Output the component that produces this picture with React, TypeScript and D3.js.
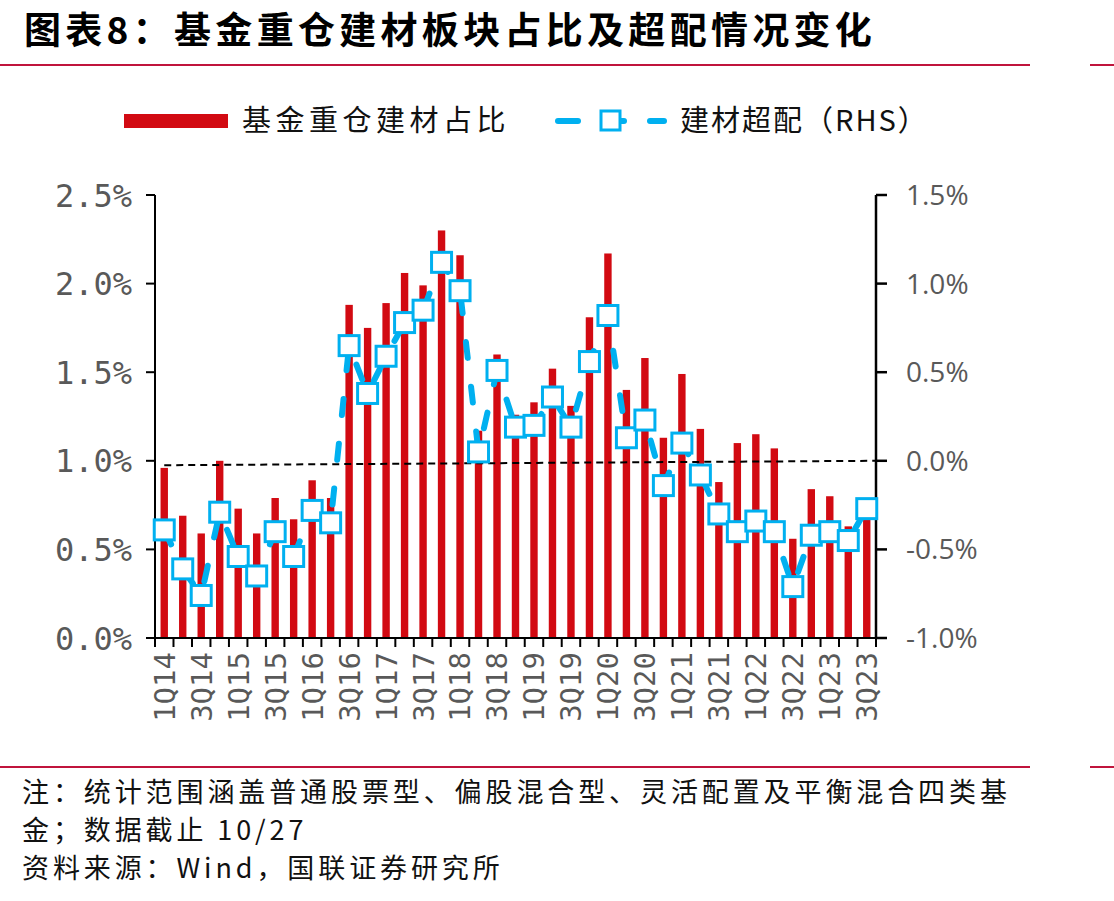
import React from "react";
import * as d3 from "d3";

// quarters 1Q14 .. 3Q23
const quarters: string[] = [];
for (let y = 14; y <= 23; y++) {
  for (let q = 1; q <= 4; q++) {
    if (y === 23 && q > 3) break;
    quarters.push(`${q}Q${y}`);
  }
}

// 基金重仓建材占比 (%), left axis
const shareValues = [
  0.96, 0.69, 0.59, 1.0, 0.73, 0.59, 0.79, 0.67, 0.89, 0.79,
  1.88, 1.75, 1.89, 2.06, 1.99, 2.3, 2.16, 1.17, 1.6, 1.26,
  1.33, 1.52, 1.31, 1.81, 2.17, 1.4, 1.58, 1.13, 1.49, 1.18,
  0.88, 1.1, 1.15, 1.07, 0.56, 0.84, 0.8, 0.63, 0.68,
];

// 建材超配 (%), right axis
const overweightValues = [
  -0.39, -0.61, -0.76, -0.29, -0.54, -0.65, -0.4, -0.54, -0.28, -0.35,
  0.65, 0.38, 0.59, 0.78, 0.85, 1.12, 0.96, 0.05, 0.51, 0.19,
  0.2, 0.36, 0.19, 0.56, 0.82, 0.13, 0.23, -0.14, 0.1, -0.08,
  -0.3, -0.4, -0.34, -0.4, -0.71, -0.42, -0.4, -0.45, -0.27,
];

const leftTicks = [0, 0.5, 1.0, 1.5, 2.0, 2.5];
const rightTicks = [-1.0, -0.5, 0, 0.5, 1.0, 1.5];

const title = "图表8：基金重仓建材板块占比及超配情况变化";
const legendBar = "基金重仓建材占比";
const legendLine = "建材超配（RHS）";
const notes = [
  "注：统计范围涵盖普通股票型、偏股混合型、灵活配置及平衡混合四类基",
  "金；数据截止 10/27",
  "资料来源：Wind，国联证券研究所",
];

const RED = "#D20A12";
const BLUE = "#00B0F0";
const RULE = "#C0143C";
const GREY = "#595959";
const CJK = "'Noto Sans CJK SC', sans-serif";

export default function App() {
  const W = 1114;
  const H = 901;
  const left = 155;
  const right = 876;
  const top = 195;
  const bottom = 638;

  const x = d3
    .scaleBand<string>()
    .domain(quarters)
    .range([left, right])
    .paddingInner(0.6)
    .paddingOuter(0.3);
  const yL = d3.scaleLinear().domain([0, 2.5]).range([bottom, top]);
  const yR = d3.scaleLinear().domain([-1, 1.5]).range([bottom, top]);
  const step = x.step();
  const cx = (q: string) => (x(q) as number) + x.bandwidth() / 2;

  const line = d3
    .line<number>()
    .x((_, i) => cx(quarters[i]))
    .y((d) => yR(d));

  const boundaries = d3.range(quarters.length + 1).map((i) => left + i * step);

  return (
    <svg width={W} height={H} style={{ display: "block", position: "absolute", left: 0, top: 0 }}>
      <rect width={W} height={H} fill="#fff" />

      {/* title + rules */}
      <text x={24} y={44} fontFamily={CJK} fontWeight={700} fontSize={37} letterSpacing={4.3} fill="#000">
        {title}
      </text>
      <line x1={0} x2={1030} y1={65} y2={65} stroke={RULE} strokeWidth={2} />
      <line x1={1090} x2={W} y1={65} y2={65} stroke={RULE} strokeWidth={2} />
      <line x1={0} x2={1030} y1={767} y2={767} stroke={RULE} strokeWidth={2} />
      <line x1={1090} x2={W} y1={767} y2={767} stroke={RULE} strokeWidth={2} />

      {/* legend */}
      <rect x={124} y={114} width={104} height={14} fill={RED} />
      <text x={242} y={131} fontFamily={CJK} fontSize={29} letterSpacing={4.5} fill="#111">
        {legendBar}
      </text>
      <line x1={558} x2={578} y1={121} y2={121} stroke={BLUE} strokeWidth={6} strokeLinecap="round" />
      <line x1={620} x2={624} y1={121} y2={121} stroke={BLUE} strokeWidth={6} strokeLinecap="round" />
      <line x1={650} x2={664} y1={121} y2={121} stroke={BLUE} strokeWidth={6} strokeLinecap="round" />
      <rect x={601} y={111} width={19} height={19} fill="#fff" stroke={BLUE} strokeWidth={3} />
      <text x={680} y={131} fontFamily={CJK} fontSize={29} letterSpacing={2} fill="#111">
        {legendLine}
      </text>

      {/* bars */}
      {shareValues.map((v, i) => (
        <rect
          key={quarters[i]}
          x={x(quarters[i])}
          y={yL(v)}
          width={x.bandwidth()}
          height={yL(0) - yL(v)}
          fill={RED}
        />
      ))}

      {/* zero line of RHS */}
      <line
        x1={cx(quarters[0])}
        x2={right}
        y1={yR(-0.025)}
        y2={yR(0)}
        stroke="#000"
        strokeWidth={2}
        strokeDasharray="7 5"
      />

      {/* axes */}
      <line x1={left} x2={left} y1={top} y2={bottom} stroke="#000" strokeWidth={2} />
      {leftTicks.map((t) => (
        <g key={"l" + t}>
          <line x1={left - 9} x2={left} y1={yL(t)} y2={yL(t)} stroke="#000" strokeWidth={2} />
          <text
            x={132}
            y={yL(t)}
            dy="0.36em"
            textAnchor="end"
            fontFamily="'DejaVu Sans Mono', monospace"
            fontSize={32}
            fill={GREY}
          >
            {t.toFixed(1) + "%"}
          </text>
        </g>
      ))}
      <line x1={right} x2={right} y1={top} y2={bottom} stroke="#000" strokeWidth={2.5} />
      {rightTicks.map((t) => (
        <g key={"r" + t}>
          <line x1={right} x2={right + 11} y1={yR(t)} y2={yR(t)} stroke="#000" strokeWidth={2.5} />
          <text
            x={906}
            y={yR(t)}
            dy="0.36em"
            textAnchor="start"
            fontFamily="'Open Sans', sans-serif"
            fontSize={28}
            fill={GREY}
          >
            {t.toFixed(1) + "%"}
          </text>
        </g>
      ))}
      <line x1={left - 1} x2={right} y1={bottom} y2={bottom} stroke="#000" strokeWidth={2} />
      {boundaries.map((bx, i) => (
        <line key={"b" + i} x1={bx} x2={bx} y1={bottom} y2={bottom + 9} stroke="#000" strokeWidth={2} />
      ))}
      {quarters.map((q, i) =>
        i % 2 === 0 ? (
          <text
            key={"x" + q}
            transform={`translate(${cx(q)},652) rotate(-90)`}
            textAnchor="end"
            dy="0.36em"
            fontFamily="'DejaVu Sans Mono', monospace"
            fontSize={29}
            fill={GREY}
          >
            {q}
          </text>
        ) : null
      )}

      {/* overweight line */}
      <path
        d={line(overweightValues) || ""}
        fill="none"
        stroke={BLUE}
        strokeWidth={6}
        strokeLinecap="round"
        strokeLinejoin="round"
        strokeDasharray="16 29"
      />
      {overweightValues.map((v, i) => (
        <rect
          key={"m" + i}
          x={cx(quarters[i]) - 10}
          y={yR(v) - 10}
          width={20}
          height={20}
          fill="#fff"
          stroke={BLUE}
          strokeWidth={3}
        />
      ))}

      {/* notes */}
      {notes.map((n, i) => (
        <text key={"n" + i} x={22} y={802 + i * 38} fontFamily={CJK} fontSize={27} letterSpacing={3.9} fill="#111">
          {n}
        </text>
      ))}
    </svg>
  );
}
